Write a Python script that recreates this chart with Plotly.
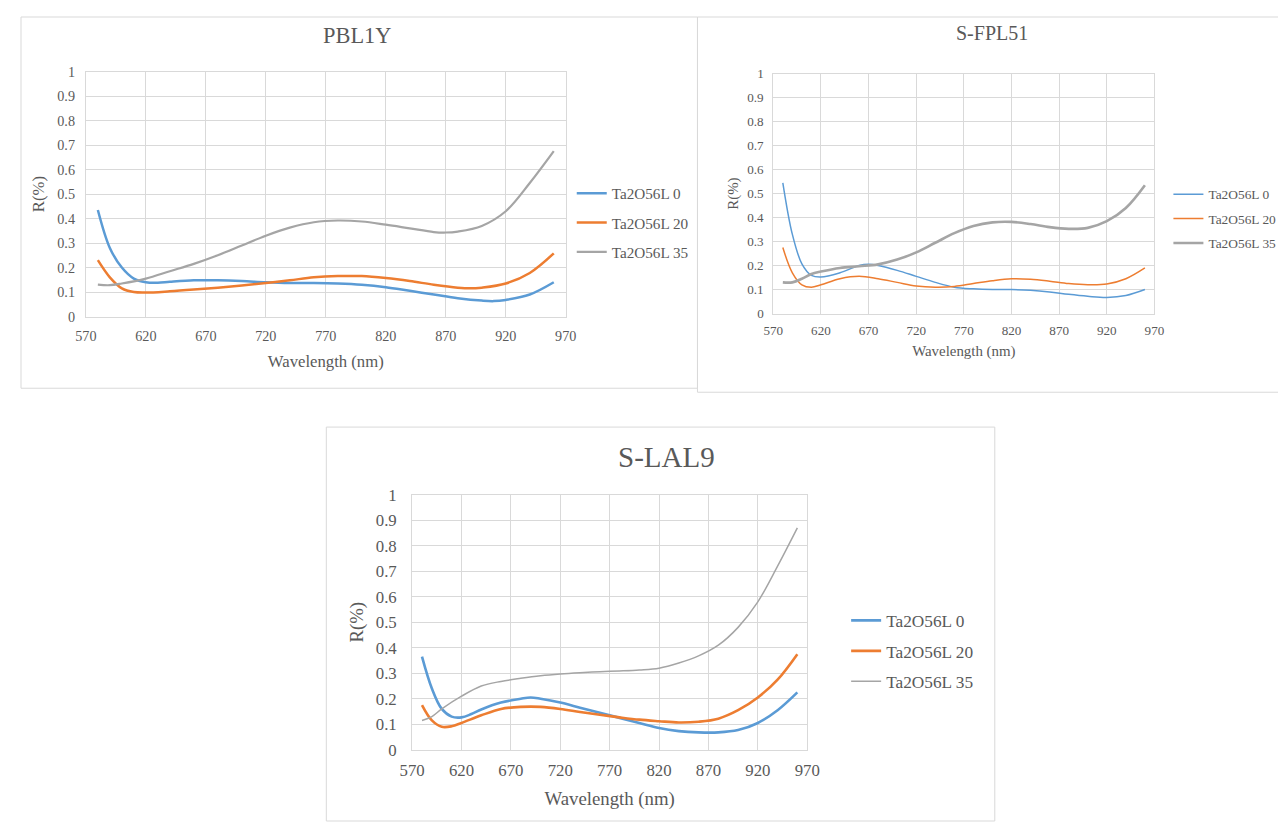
import plotly.graph_objects as go

W, H = 1286, 823
# the page is photographed with a small offset/scale; place items in reference pixels
SX, OXR = 0.982, 19.0
SY, OYR = 0.981, 15.2
K = 1 / 0.982  # font / width compensation

FONT = "Liberation Serif"
TXT = "#595959"
GRID = "#D9D9D9"
C_BLUE, C_ORANGE, C_GREY = "#5B9BD5", "#ED7D31", "#A5A5A5"

series_names = ["Ta2O56L 0", "Ta2O56L 20", "Ta2O56L 35"]

# ---- PBL1Y ----
pbl_x0 = [580, 590, 600, 610, 620, 630, 640, 660, 680, 700, 720, 740, 760, 780, 800, 820, 840, 860, 880, 900, 910, 920, 940, 960]
pbl_y0 = [0.435, 0.28, 0.20, 0.155, 0.14, 0.138, 0.142, 0.148, 0.148, 0.145, 0.14, 0.137, 0.137, 0.135, 0.13, 0.12, 0.105, 0.09, 0.075, 0.065, 0.063, 0.068, 0.09, 0.14]
pbl_x = [580, 590, 600, 610, 620, 640, 660, 680, 700, 720, 740, 760, 780, 800, 820, 840, 860, 880, 890, 900, 920, 940, 960]
pbl_y20 = [0.23, 0.16, 0.115, 0.10, 0.098, 0.103, 0.11, 0.118, 0.127, 0.137, 0.148, 0.16, 0.165, 0.165, 0.157, 0.145, 0.13, 0.118, 0.115, 0.118, 0.135, 0.178, 0.258]
pbl_x35 = [580, 590, 600, 620, 640, 660, 680, 700, 720, 740, 760, 780, 800, 820, 840, 860, 870, 880, 900, 920, 940, 960]
pbl_y35 = [0.13, 0.128, 0.135, 0.155, 0.185, 0.215, 0.25, 0.29, 0.33, 0.363, 0.385, 0.392, 0.388, 0.375, 0.36, 0.345, 0.343, 0.347, 0.37, 0.43, 0.545, 0.675]

# ---- S-FPL51 ----
fpl_x = [580, 590, 600, 610, 620, 640, 660, 670, 680, 700, 720, 740, 760, 780, 800, 820, 840, 860, 880, 900, 920, 940, 960]
fpl_y0 = [0.545, 0.33, 0.207, 0.159, 0.152, 0.17, 0.2, 0.205, 0.2, 0.18, 0.155, 0.13, 0.11, 0.103, 0.1, 0.1, 0.097, 0.09, 0.08, 0.072, 0.067, 0.075, 0.1]
fpl_x2 = [580, 590, 600, 610, 620, 640, 660, 680, 700, 720, 740, 760, 780, 800, 820, 840, 860, 880, 900, 920, 940, 960]
fpl_y20 = [0.275, 0.17, 0.12, 0.11, 0.12, 0.145, 0.155, 0.145, 0.13, 0.115, 0.11, 0.113, 0.125, 0.137, 0.145, 0.143, 0.135, 0.125, 0.12, 0.123, 0.145, 0.19]
fpl_y35 = [0.13, 0.13, 0.145, 0.165, 0.175, 0.19, 0.197, 0.205, 0.225, 0.255, 0.295, 0.335, 0.365, 0.38, 0.382, 0.373, 0.36, 0.353, 0.357, 0.385, 0.44, 0.535]

# ---- S-LAL9 ----
lal_x = [580, 590, 600, 610, 620, 630, 640, 660, 680, 690, 700, 720, 740, 760, 780, 800, 820, 840, 860, 880, 900, 920, 940, 960]
lal_y0 = [0.365, 0.24, 0.16, 0.13, 0.127, 0.14, 0.158, 0.185, 0.2, 0.205, 0.2, 0.185, 0.165, 0.145, 0.125, 0.105, 0.085, 0.073, 0.068, 0.068, 0.077, 0.105, 0.155, 0.225]
lal_x2 = [580, 590, 600, 610, 620, 640, 660, 680, 700, 720, 740, 760, 780, 800, 820, 840, 860, 880, 900, 920, 940, 960]
lal_y20 = [0.175, 0.115, 0.09, 0.092, 0.105, 0.135, 0.16, 0.168, 0.168, 0.16, 0.148, 0.137, 0.127, 0.118, 0.112, 0.107, 0.11, 0.122, 0.155, 0.205, 0.275, 0.375]
lal_x3 = [580, 590, 600, 620, 640, 660, 680, 700, 720, 740, 760, 780, 800, 820, 840, 860, 880, 900, 920, 940, 960]
lal_y35 = [0.115, 0.13, 0.16, 0.21, 0.25, 0.268, 0.28, 0.29, 0.297, 0.302, 0.306, 0.309, 0.313, 0.32, 0.34, 0.368, 0.41, 0.48, 0.58, 0.72, 0.87]

x_ticks = [570, 620, 670, 720, 770, 820, 870, 920, 970]
y_ticks = [0, 0.1, 0.2, 0.3, 0.4, 0.5, 0.6, 0.7, 0.8, 0.9, 1]
y_tick_text = ["0", "0.1", "0.2", "0.3", "0.4", "0.5", "0.6", "0.7", "0.8", "0.9", "1"]


def px(x):
    f = (x - OXR) / SX
    return min(max(f / W, 0), 1)


def py(y):
    f = (y - OYR) / SY
    return min(max(1 - f / H, 0), 1)


charts = [
    dict(title="PBL1Y", xa="x", ya="y", leg="legend",
         dom=(84, 565, 70, 316), tsize=22.4, tpos=(356, 34), tick=14.2, axt=16.7, legf=15.2,
         legpos=(571, 222), gap=6.5, xlen=6, ylen=7, xstand=12, ystand=8,
         data=[(pbl_x0, pbl_y0, C_BLUE, 2.5), (pbl_x, pbl_y20, C_ORANGE, 2.5), (pbl_x35, pbl_y35, C_GREY, 2.2)],
         frame=(8, 5, 697, 388)),
    dict(title="S-FPL51", xa="x2", ya="y2", leg="legend2",
         dom=(773, 1155, 72, 313), tsize=20, tpos=(992, 31), tick=13.1, axt=14.9, legf=13.4,
         legpos=(1169, 218), gap=4, xlen=5, ylen=6, xstand=8, ystand=5,
         data=[(fpl_x, fpl_y0, C_BLUE, 1.5), (fpl_x2, fpl_y20, C_ORANGE, 1.5), (fpl_x2, fpl_y35, C_GREY, 2.6)],
         frame=(697, 6, 1300, 392)),
    dict(title="S-LAL9", xa="x3", ya="y3", leg="legend3",
         dom=(411, 807, 495, 751), tsize=29, tpos=(666, 457), tick=16.8, axt=18.8, legf=17.3,
         legpos=(846, 652), gap=5, xlen=5, ylen=11, xstand=12, ystand=7,
         data=[(lal_x, lal_y0, C_BLUE, 2.6), (lal_x2, lal_y20, C_ORANGE, 2.6), (lal_x3, lal_y35, C_GREY, 1.5)],
         frame=(325, 427, 995, 840)),
]

fig = go.Figure()
layout = dict(width=W, height=H, margin=dict(l=0, r=0, t=0, b=0),
              paper_bgcolor="white", plot_bgcolor="white",
              font=dict(family=FONT, color=TXT), annotations=[], shapes=[])

for i, c in enumerate(charts):
    for j, (xs, ys, col, lw) in enumerate(c["data"]):
        fig.add_trace(go.Scatter(
            x=xs, y=ys, name=series_names[j], mode="lines",
            line=dict(color=col, width=lw, shape="spline", smoothing=1.0),
            xaxis=c["xa"], yaxis=c["ya"], legend=c["leg"],
            legendgroup=f"{i}_{j}", showlegend=True))
    l, r, t, b = c["dom"]
    xkey = "xaxis" if c["xa"] == "x" else "xaxis" + c["xa"][1:]
    ykey = "yaxis" if c["ya"] == "y" else "yaxis" + c["ya"][1:]
    layout[xkey] = dict(domain=[px(l), px(r)], range=[570, 970], anchor=c["ya"],
                        tickvals=x_ticks, ticktext=[str(v) for v in x_ticks],
                        showgrid=True, gridcolor=GRID, gridwidth=1,
                        showline=True, linecolor=GRID, linewidth=1, mirror=True,
                        zeroline=False, ticks="outside", ticklen=c["xlen"], tickcolor="rgba(0,0,0,0)",
                        tickfont=dict(family=FONT, size=c["tick"], color=TXT),
                        title=dict(text="Wavelength (nm)", standoff=c["xstand"],
                                   font=dict(family=FONT, size=c["axt"], color=TXT)))
    layout[ykey] = dict(domain=[py(b), py(t)], range=[0, 1], anchor=c["xa"],
                        tickvals=y_ticks, ticktext=y_tick_text,
                        showgrid=True, gridcolor=GRID, gridwidth=1,
                        showline=True, linecolor=GRID, linewidth=1, mirror=True,
                        zeroline=False, ticks="outside", ticklen=c["ylen"], tickcolor="rgba(0,0,0,0)",
                        tickfont=dict(family=FONT, size=c["tick"], color=TXT),
                        title=dict(text="R(%)", standoff=c["ystand"],
                                   font=dict(family=FONT, size=c["axt"], color=TXT)))
    layout[c["leg"]] = dict(x=px(c["legpos"][0]), y=py(c["legpos"][1]), xanchor="left", yanchor="middle",
                            bgcolor="rgba(0,0,0,0)", borderwidth=0, tracegroupgap=c["gap"],
                            itemwidth=30, font=dict(family=FONT, size=c["legf"], color=TXT))
    layout["annotations"].append(dict(text=c["title"], x=px(c["tpos"][0]), y=py(c["tpos"][1]),
                                      xref="paper", yref="paper", showarrow=False,
                                      xanchor="center", yanchor="middle",
                                      font=dict(family=FONT, size=c["tsize"], color=TXT)))
    fx0, fy0, fx1, fy1 = c["frame"]
    layout["shapes"].append(dict(type="rect", xref="paper", yref="paper",
                                 x0=px(fx0), x1=px(fx1), y0=py(fy1), y1=py(fy0),
                                 line=dict(color="#D9D9D9", width=1), fillcolor="rgba(0,0,0,0)",
                                 layer="below"))

fig.update_layout(**layout)
fig.write_html("out.html")
